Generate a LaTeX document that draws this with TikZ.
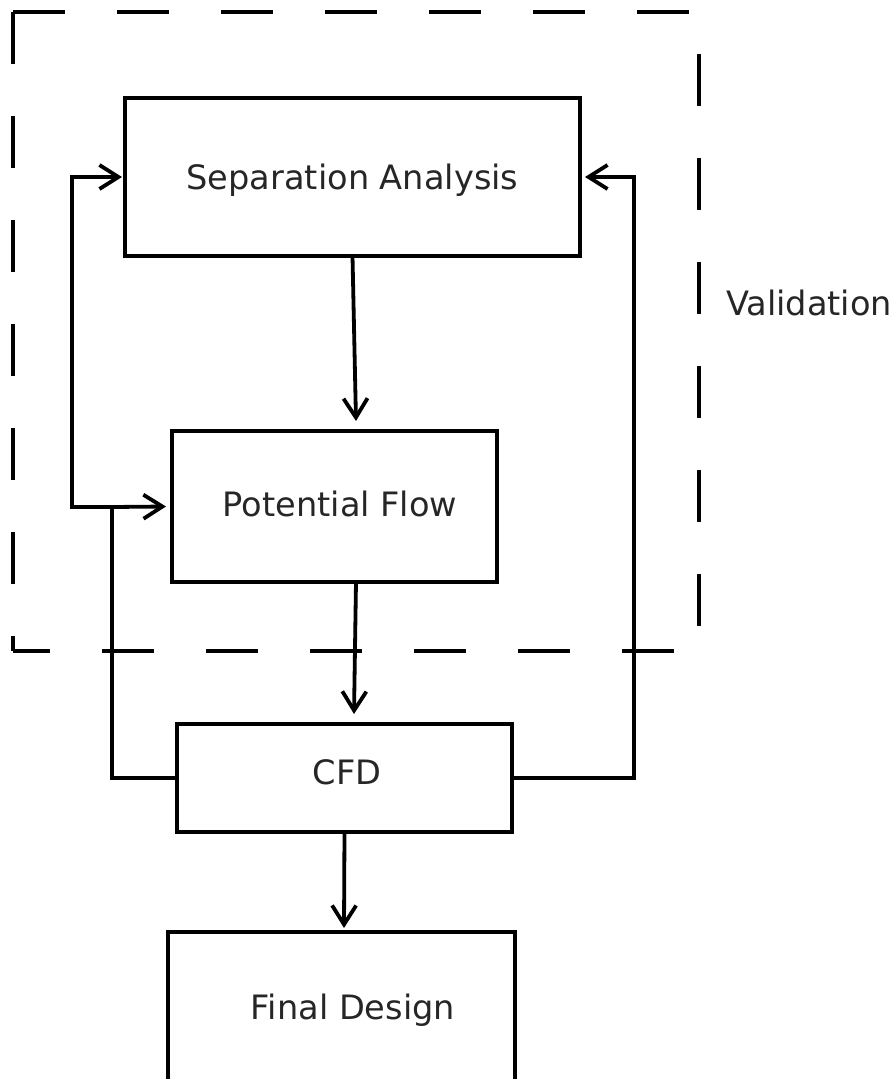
\documentclass[tikz,border=0pt]{standalone}
\usepackage{fontspec}
\setmainfont{DejaVu Sans}
\usetikzlibrary{arrows.meta}
\begin{document}
\begin{tikzpicture}[x=1pt,y=-1pt,
  box/.style={draw,line width=3.8pt,minimum width=#1,inner sep=0pt,outer sep=0pt},
  lbl/.style={inner sep=0pt,text=black!85,font=\fontsize{33.6pt}{40pt}\selectfont},
  conn/.style={line width=3.8pt},
  arr/.style={conn,-{Straight Barb[length=19pt,width=24pt]}},
  dsh/.style={line width=3.8pt,dash pattern=on 52pt off 52pt}]
\useasboundingbox (0,0) rectangle (894,1079);
% dashed validation frame
\coordinate (tl) at (13,12);
\coordinate (tr) at (699,12);
\coordinate (bl) at (13,651);
\coordinate (br) at (699,651);
\draw[dsh] (tl) -- (tr);
\draw[dsh] (tl) -- (bl);
\draw[dsh,dash phase=15pt] (bl) -- (br);
\draw[dsh,dash phase=62pt] (tr) -- (br);
\node[lbl,anchor=west] (val) at (726,303) {Validation};
% boxes
\node[box=455pt,minimum height=158pt] (sep) at (352.5,177) {};
\node[box=325pt,minimum height=151pt] (pf) at (334.5,506.5) {};
\node[box=335pt,minimum height=108pt] (cfd) at (344.5,778) {};
\node[box=347pt,minimum height=152pt] (fin) at (341.5,1008) {};
\node[lbl] (sepT) at (352.5,180) {Separation Analysis};
\node[lbl] (pfT) at (340,504) {Potential Flow};
\node[lbl] (cfdT) at (347,772) {CFD};
\node[lbl] (finT) at (353,1010) {Final Design};
% connectors
\draw[arr] (sep.south) -- ([xshift=21.5pt,yshift=10pt]pf.north);
\draw[arr] ([xshift=21.5pt]pf.south) -- ([xshift=9.5pt,yshift=10pt]cfd.north);
\draw[arr] (cfd.south) -- ([xshift=2.5pt,yshift=4pt]fin.north);
\coordinate (j) at (112,507);
\coordinate (k) at (72,507);
\coordinate (r) at (634,778);
\draw[arr] (cfd.west) -| (j) -- ([xshift=-6pt]pf.west);
\draw[arr] (j) -- (k) |- ([xshift=-3pt]sep.west);
\draw[arr] (cfd.east) -- (r) |- ([xshift=5pt]sep.east);
\end{tikzpicture}
\end{document}
